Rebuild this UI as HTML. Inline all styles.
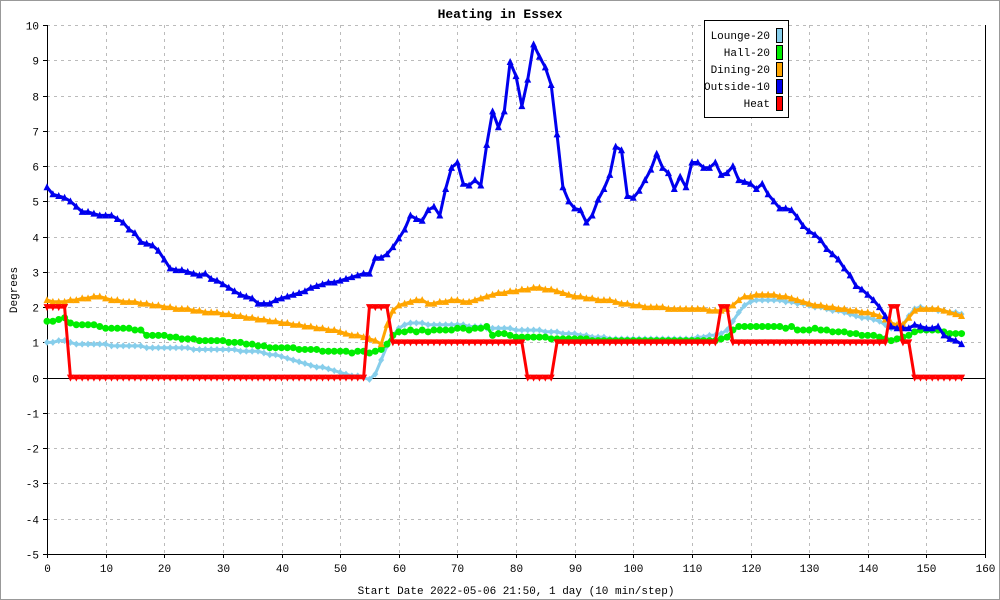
<!DOCTYPE html>
<html><head><meta charset="utf-8"><style>
html,body{margin:0;padding:0;background:#fff;}
svg{display:block;font-family:"Liberation Mono","DejaVu Sans Mono",monospace;}
</style></head><body>
<svg id="chart" width="1000" height="600" viewBox="0 0 1000 600" xmlns="http://www.w3.org/2000/svg">
<rect x="0.5" y="0.5" width="999" height="599" fill="#fff" stroke="#999"/>
<text x="500" y="18" text-anchor="middle" font-size="13" font-weight="bold">Heating in Essex</text>
<g id="grid"></g>
<g id="axes"></g>
<g id="series"></g>
<text x="516" y="594" text-anchor="middle" font-size="11">Start Date 2022-05-06 21:50, 1 day (10 min/step)</text>
<text x="17" y="290" text-anchor="middle" font-size="11" transform="rotate(-90 17 290)">Degrees</text>
<g id="legend">
<rect x="704.5" y="20.5" width="84" height="97" fill="#fff" stroke="#000"/>
</g>
</svg>
<script>
const xTicks=[0,10,20,30,40,50,60,70,80,90,100,110,120,130,140,150,160];
const yTicks=[-5,-4,-3,-2,-1,0,1,2,3,4,5,6,7,8,9,10];
const seriesNames=["Lounge-20","Hall-20","Dining-20","Outside-10","Heat"];
const lounge=[1.0,1.0,1.05,1.05,1.0,0.95,0.95,0.95,0.95,0.95,
0.95,0.9,0.9,0.9,0.9,0.9,0.9,0.85,0.85,0.85,
0.85,0.85,0.85,0.85,0.85,0.8,0.8,0.8,0.8,0.8,
0.8,0.8,0.8,0.75,0.75,0.75,0.75,0.7,0.65,0.65,
0.6,0.55,0.5,0.45,0.4,0.35,0.3,0.3,0.25,0.2,
0.15,0.1,0.05,0.05,0.0,-0.05,0.1,0.5,0.9,1.2,
1.4,1.5,1.55,1.55,1.55,1.5,1.5,1.5,1.5,1.5,
1.5,1.5,1.45,1.45,1.45,1.4,1.4,1.4,1.4,1.4,
1.35,1.35,1.35,1.35,1.35,1.3,1.3,1.3,1.25,1.25,
1.25,1.2,1.2,1.15,1.15,1.15,1.1,1.1,1.1,1.1,
1.1,1.1,1.1,1.1,1.1,1.1,1.1,1.1,1.1,1.1,
1.1,1.15,1.15,1.2,1.2,1.25,1.35,1.6,1.85,2.05,
2.15,2.2,2.2,2.2,2.2,2.2,2.15,2.15,2.1,2.1,
2.05,2.0,2.0,1.95,1.9,1.9,1.85,1.8,1.75,1.7,
1.7,1.65,1.6,1.5,1.4,1.45,1.5,1.75,1.95,2.0,
1.95,1.95,1.9,1.9,1.85,1.85,1.8];
const hall=[1.6,1.6,1.65,1.7,1.55,1.5,1.5,1.5,1.5,1.45,
1.4,1.4,1.4,1.4,1.4,1.35,1.35,1.2,1.2,1.2,
1.2,1.15,1.15,1.1,1.1,1.1,1.05,1.05,1.05,1.05,
1.05,1.0,1.0,1.0,0.95,0.95,0.9,0.9,0.85,0.85,
0.85,0.85,0.85,0.8,0.8,0.8,0.8,0.75,0.75,0.75,
0.75,0.75,0.7,0.75,0.75,0.7,0.75,0.8,0.95,1.2,
1.3,1.3,1.35,1.3,1.35,1.3,1.35,1.35,1.35,1.35,
1.4,1.4,1.35,1.4,1.4,1.45,1.2,1.25,1.25,1.2,
1.15,1.15,1.15,1.15,1.15,1.15,1.1,1.1,1.1,1.1,
1.1,1.1,1.1,1.05,1.05,1.05,1.05,1.05,1.05,1.05,
1.05,1.05,1.05,1.05,1.05,1.05,1.05,1.05,1.05,1.05,
1.05,1.05,1.05,1.05,1.05,1.1,1.15,1.35,1.45,1.45,
1.45,1.45,1.45,1.45,1.45,1.45,1.4,1.45,1.35,1.35,
1.35,1.4,1.35,1.35,1.3,1.3,1.3,1.25,1.25,1.2,
1.2,1.2,1.15,1.1,1.05,1.1,1.15,1.2,1.3,1.35,
1.35,1.35,1.35,1.3,1.25,1.25,1.25];
const dining=[2.2,2.15,2.15,2.15,2.2,2.2,2.25,2.25,2.3,2.3,
2.25,2.2,2.2,2.15,2.15,2.15,2.1,2.1,2.05,2.05,
2.0,2.0,1.95,1.95,1.95,1.9,1.9,1.85,1.85,1.85,
1.8,1.8,1.75,1.75,1.7,1.7,1.65,1.65,1.6,1.6,
1.55,1.55,1.5,1.5,1.45,1.45,1.4,1.4,1.35,1.35,
1.3,1.25,1.2,1.2,1.15,1.1,1.05,0.95,1.5,1.9,
2.05,2.1,2.15,2.2,2.2,2.1,2.1,2.15,2.15,2.2,
2.2,2.15,2.15,2.2,2.25,2.3,2.35,2.4,2.4,2.45,
2.45,2.5,2.5,2.55,2.55,2.5,2.5,2.45,2.4,2.35,
2.3,2.3,2.25,2.25,2.2,2.2,2.2,2.15,2.1,2.1,
2.05,2.05,2.0,2.0,2.0,2.0,1.95,1.95,1.95,1.95,
1.95,1.95,1.95,1.9,1.9,1.9,1.95,2.05,2.2,2.3,
2.3,2.35,2.35,2.35,2.35,2.3,2.3,2.25,2.2,2.15,
2.1,2.05,2.05,2.0,2.0,1.95,1.95,1.9,1.9,1.85,
1.85,1.8,1.75,1.65,1.55,1.5,1.5,1.7,1.9,1.95,
1.95,1.95,1.95,1.9,1.85,1.8,1.75];
const outside=[5.4,5.2,5.15,5.1,5.0,4.85,4.7,4.7,4.65,4.6,
4.6,4.6,4.5,4.4,4.2,4.1,3.85,3.8,3.75,3.6,
3.35,3.1,3.05,3.05,3.0,2.95,2.9,2.95,2.8,2.75,
2.65,2.55,2.45,2.35,2.3,2.25,2.1,2.1,2.1,2.2,
2.25,2.3,2.35,2.4,2.45,2.55,2.6,2.65,2.7,2.7,
2.75,2.8,2.85,2.9,2.95,2.95,3.4,3.4,3.5,3.7,
3.95,4.2,4.6,4.5,4.45,4.75,4.85,4.6,5.35,5.95,
6.1,5.5,5.45,5.6,5.45,6.6,7.55,7.1,7.55,8.95,
8.55,7.7,8.45,9.45,9.1,8.8,8.3,6.9,5.4,5.0,
4.8,4.75,4.4,4.6,5.05,5.35,5.75,6.55,6.45,5.15,
5.1,5.3,5.6,5.9,6.35,5.95,5.8,5.35,5.7,5.4,
6.1,6.1,5.95,5.95,6.1,5.75,5.8,6.0,5.6,5.55,
5.5,5.35,5.5,5.2,5.0,4.8,4.8,4.75,4.55,4.3,
4.15,4.05,3.9,3.65,3.5,3.35,3.1,2.9,2.6,2.5,
2.35,2.2,2.0,1.75,1.45,1.4,1.4,1.4,1.5,1.45,
1.4,1.4,1.45,1.2,1.1,1.05,0.95];
const heat=[2,2,2,2,0,0,0,0,0,0,
0,0,0,0,0,0,0,0,0,0,
0,0,0,0,0,0,0,0,0,0,
0,0,0,0,0,0,0,0,0,0,
0,0,0,0,0,0,0,0,0,0,
0,0,0,0,0,2,2,2,2,1,
1,1,1,1,1,1,1,1,1,1,
1,1,1,1,1,1,1,1,1,1,
1,1,0,0,0,0,0,1,1,1,
1,1,1,1,1,1,1,1,1,1,
1,1,1,1,1,1,1,1,1,1,
1,1,1,1,1,2,2,1,1,1,
1,1,1,1,1,1,1,1,1,1,
1,1,1,1,1,1,1,1,1,1,
1,1,1,1,2,2,1,1,0,0,
0,0,0,0,0,0,0];

const NS="http://www.w3.org/2000/svg";
const X0=47,X1=985,Y0=554,Y1=25;
const xs=v=>X0+(v-0)*(X1-X0)/160;
const ys=v=>Y0-(v+5)*(Y0-Y1)/15;
function mk(tag,attrs,parent){const e=document.createElementNS(NS,tag);for(const k in attrs)e.setAttribute(k,attrs[k]);parent.appendChild(e);return e;}
const grid=document.getElementById('grid'),axes=document.getElementById('axes'),ser=document.getElementById('series');
xTicks.forEach(t=>{
  const x=Math.round(xs(t))+0.5;
  if(t>0&&t<160){const l=mk('line',{x1:x,x2:x,y1:Y1,y2:Y0,stroke:'#bbb','stroke-dasharray':'3,4'},grid);
  
  }
  const tk=mk('line',{x1:x,x2:x,y1:Y0,y2:Y0+4,stroke:'#000'},axes);
  
  
  const tx=mk('text',{x:x,y:Y0+18,'text-anchor':'middle','font-size':11},axes);
  tx.textContent=t;
  
  
});
yTicks.forEach(t=>{
  const y=Math.round(ys(t))+0.5;
  if(t!==0){const l=mk('line',{x1:X0,x2:X1,y1:y,y2:y,stroke:'#bbb','stroke-dasharray':'3,4'},grid);
  
  }
  const tk=mk('line',{x1:X0-4,x2:X0,y1:y,y2:y,stroke:'#000'},axes);
  
  
  const tx=mk('text',{x:X0-8,y:y+4,'text-anchor':'end','font-size':11},axes);
  tx.textContent=t;
  
  
});
const zl=mk('line',{x1:X0,x2:X1,y1:Math.round(ys(0))+0.5,y2:Math.round(ys(0))+0.5,stroke:'#000'},axes);


const ya=mk('line',{x1:X0+0.5,x2:X0+0.5,y1:Y1,y2:Y0,stroke:'#000'},axes);


const ra=mk('line',{x1:X1+0.5,x2:X1+0.5,y1:Y1,y2:Y0+4,stroke:'#000'},axes);


const xa=mk('line',{x1:X0,x2:X1,y1:Y0+0.5,y2:Y0+0.5,stroke:'#000'},axes);



function marker(kind,x,y,c,g){
  let e;
  if(kind==='tri')e=mk('polygon',{points:`${x},${y-4} ${x-3.5},${y+3} ${x+3.5},${y+3}`,fill:c},g);
  else if(kind==='dtri')e=mk('polygon',{points:`${x-3.5},${y-3} ${x+3.5},${y-3} ${x},${y+4}`,fill:c},g);
  else if(kind==='circ')e=mk('circle',{cx:x,cy:y,r:3.5,fill:c},g);
  else e=mk('polygon',{points:`${x},${y-3.5} ${x+3},${y} ${x},${y+3.5} ${x-3},${y}`,fill:c},g);
  return e;
}
function drawSeries(data,color,kind,name){
  const g=mk('g',{},ser);
  
  
  const pts=data.map((v,i)=>xs(i).toFixed(1)+','+ys(v).toFixed(1)).join(' ');
  const pl=mk('polyline',{points:pts,fill:'none',stroke:color,'stroke-width':3,'stroke-linejoin':'round'},g);
  
  
  data.forEach((v,i)=>{
    const m=marker(kind,xs(i),ys(v),color,g);
    
    
  });
}
drawSeries(lounge,'#87ceeb','dia','lounge');
drawSeries(hall,'#00ee00','circ','hall');
drawSeries(dining,'#ffa500','tri','dining');
drawSeries(outside,'#0000ee','tri','outside');
drawSeries(heat,'#ff0000','dtri','heat');

const lg=document.getElementById('legend');
const lcol=['#87ceeb','#00ee00','#ffa500','#0000ee','#ff0000'];
seriesNames.forEach((n,i)=>{
  const y=28+i*17;
  const t=mk('text',{x:770,y:y+11,'text-anchor':'end','font-size':11},lg);
  t.textContent=n;
  
  
  const r=mk('rect',{x:776.5,y:y+0.5,width:6,height:14,fill:lcol[i],stroke:'#000'},lg);
  
  
});
</script>
</body></html>
